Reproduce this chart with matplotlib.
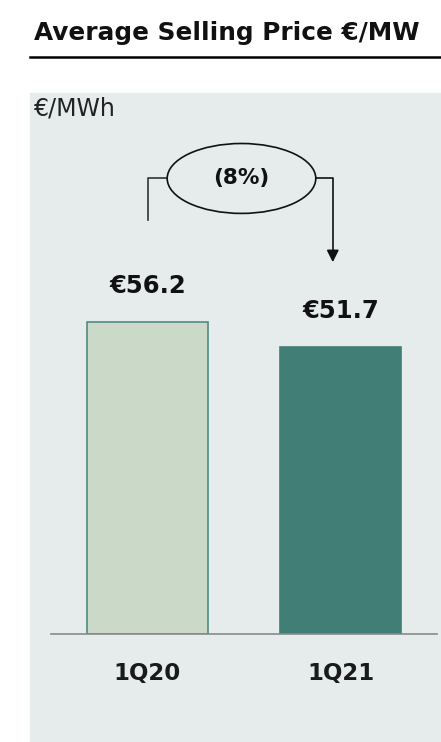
import matplotlib
matplotlib.use("Agg")
import matplotlib.pyplot as plt
from matplotlib.patches import Ellipse, Rectangle

# data
periods = ["1Q20", "1Q21"]
prices = [56.2, 51.7]
bar_colors = ["#cbd9c8", "#417e76"]
edge_colors = ["#4f8b80", "#417e76"]

W, H = 441, 742
fig = plt.figure(figsize=(W / 100, H / 100), dpi=100)

# grey panel behind the chart
fig.patches.append(Rectangle((30 / W, 0), 1 - 30 / W, (H - 93) / H,
                             transform=fig.transFigure, color="#e6ebeb", zorder=-5))

# title with underline
fig.text(34 / W, 1 - 40 / H, "Average Selling Price €/MW", fontsize=17.8,
         fontweight="semibold", color="#111111", va="baseline", ha="left")
fig.add_artist(plt.Line2D([30 / W, 1], [1 - 57 / H, 1 - 57 / H],
                          transform=fig.transFigure, color="black", lw=1.8))

fig.text(34 / W, 1 - 108 / H, "€/MWh", fontsize=17, color="#222222",
         va="center", ha="left")

ax = fig.add_axes([51 / W, (H - 634) / H, 386 / W, (634 - 93) / H])
ax.set_facecolor("none")
ax.set_zorder(2)
x = range(len(periods))
ax.bar(x, prices, width=0.63, color=bar_colors, edgecolor=edge_colors, linewidth=1.2, zorder=2)
ax.set_xlim(-0.5, 1.5)
ax.set_ylim(0, 97.5)

for spine in ["top", "right", "left"]:
    ax.spines[spine].set_visible(False)
ax.spines["bottom"].set_color("#8a8a8a")
ax.spines["bottom"].set_linewidth(1.2)
ax.set_yticks([])
ax.set_xticks(list(x), periods)
ax.tick_params(axis="x", length=0, pad=20, labelsize=16.5, labelcolor="#1a1a1a")
for lbl in ax.get_xticklabels():
    lbl.set_fontweight("bold")

# value labels
for i, v in enumerate(prices):
    ax.text(i, v + 6.5, f"€{v}", ha="center", va="center", fontsize=17.5,
            fontweight="bold", color="#111111")

# change bubble with connector arrow
change = (prices[1] / prices[0] - 1) * 100
top_y = max(prices) + 25.9
ell_x, ell_w, ell_h = 0.487, 0.77, 12.6
ax.add_patch(Ellipse((ell_x, top_y), ell_w, ell_h, facecolor="none",
                     edgecolor="#111111", lw=1.2, zorder=3))
ax.text(ell_x, top_y, f"({abs(change):.0f}%)", ha="center", va="center",
        fontsize=15.5, fontweight="bold", color="#111111")
ax.plot([0, 0, ell_x - ell_w / 2], [prices[0] + 18.4, top_y, top_y],
        color="#333333", lw=1.2)
ax.annotate("", xy=(0.96, prices[1] + 15.3), xytext=(ell_x + ell_w / 2, top_y),
            arrowprops=dict(arrowstyle="-|>", connectionstyle="angle,angleA=0,angleB=90,rad=0",
                            color="#111111", lw=1.2, mutation_scale=18,
                            shrinkA=0, shrinkB=0))

fig.savefig("out.png", dpi=100)
